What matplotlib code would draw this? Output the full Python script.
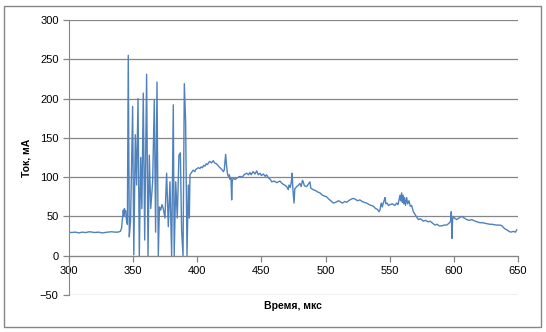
import matplotlib.pyplot as plt
from matplotlib.patches import Rectangle

# time, us
t = [300, 302, 305, 308, 310, 313, 316, 320, 323, 326, 330, 333, 336, 338, 340,
     341, 341.5, 342, 342.3, 342.8, 343.2, 343.6, 344.2, 344.8, 345.5,
     346.2, 347, 348, 349.6, 350.5, 351.7, 352.7, 353.8, 354.8, 355.9, 356.8, 357.9,
     359, 360.5, 361.6, 362.6, 363.7, 365.2, 366.5, 367.5, 368.6, 369.6, 370.5, 371.5,
     372.5, 373.5, 374.8, 376.1, 377.4, 378.7, 380, 381.3, 382, 383.2, 384.4, 385.7,
     386.8, 387.8, 388.9, 389.9, 390.9, 392, 393, 393.8, 394.3,
     395.5, 396.9, 398, 399, 400.8, 402, 403, 404, 405, 406, 407, 408, 409, 409.9,
     411, 412.5, 413.5, 415, 416, 417.7, 419, 420.3, 421, 422.1, 422.8, 423.5,
     424.2, 425, 425.5, 426.3, 426.8, 427.3, 428, 429.5, 431, 433.3, 435, 436.5,
     438.5, 440, 441, 442, 443.5, 445, 446.3, 447.5, 449, 450, 451.5, 453, 454,
     455.5, 457, 458, 460, 462, 464.5, 466, 468, 469.7, 470.9, 471.5, 472.5, 473.3,
     474, 474.5, 475.4, 476, 477.5, 479, 480, 481, 482, 482.6, 483.5, 485.2, 486.5,
     487.8, 488.5, 490.4, 492, 494, 495.6, 497.5, 499, 500.8, 502.5, 504, 506, 508,
     510, 511.2, 513, 515, 516.4, 518, 520, 521.6, 523, 525, 526.8, 528.5, 530, 532,
     534, 535.5, 537.2, 539, 540.5, 541.6, 542.4, 543, 543.5, 544.2, 545, 545.6,
     546.3, 547, 548, 549, 550.2, 552, 554, 555.4, 556.5, 558, 558.6, 559.3, 559.8,
     560.5, 561, 561.5, 562.3, 563.2, 564, 565, 566, 567.1, 568.4, 570, 572.3, 574,
     576.2, 578, 580, 581.4, 583, 585.3, 587, 588.5, 590.5, 592.5, 594.4, 596, 597.5,
     598, 598.5, 599, 599.5, 600.5, 602.2, 604, 606.1, 608, 610, 612, 614, 616.5,
     618.5, 620.4, 622.5, 625, 628.2, 630, 633, 636, 637.5, 638.6, 640, 641.3, 643,
     644.5, 646.4, 648, 649]

# current, mA
cur = [30, 29.5, 30, 29, 30, 29.5, 30.5, 29.5, 30, 29, 30, 30.5, 30, 30, 31,
       35, 45, 52, 58, 50, 60, 55, 57, 45, 40,
       255, 24, 45, 190, 1, 154, 90, 200, 0, 125, 60, 207,
       20, 231, 0, 128, 60, 94, 198, 30, 221, 0, 62, 58,
       65, 60, 48, 105, 37, 94, 0, 192, 0, 94, 48, 128,
       131, 31, 0, 219, 171, 0, 90, 48, 103,
       106, 109, 107, 110, 112, 111, 113, 112, 115, 114, 117, 116, 119, 120,
       118, 121, 118, 117, 115, 112, 110, 107, 109, 129, 115, 105,
       101, 103, 97, 99, 71, 95, 99, 97, 99, 101, 100, 103,
       105, 103, 106, 103, 107, 104, 108, 103, 105, 102, 104, 101, 103,
       99, 97, 94, 95, 93, 95, 92, 90, 88, 84, 90, 87, 94,
       105, 85, 67, 85, 88, 90, 92, 88, 96, 94, 89, 88, 91,
       94, 86, 84, 83, 81, 80, 77, 76, 75, 72, 70, 67, 68,
       70, 69, 67, 69, 68, 70, 72, 73, 72, 70, 71, 69, 68, 67,
       65, 64, 63, 60, 59, 56, 58, 64, 67, 62, 67, 70,
       74, 66, 67, 64, 65, 66, 64, 67, 65, 77, 70, 80, 68,
       77, 66, 74, 64, 74, 66, 70, 63, 64, 56, 52, 46, 47,
       44, 45, 43, 44, 42, 39, 40, 38, 38, 39, 39, 41, 44,
       56, 22, 45, 50, 48, 46, 48, 50, 48, 46, 45, 46, 44,
       43, 42, 42, 41, 40, 40, 39, 39, 38, 36, 34, 33, 31,
       30, 31, 30, 33]

fig = plt.figure(figsize=(5.46, 3.32), dpi=100)
ax = fig.add_axes([69/546, 1 - 295/332, 449/546, 275/332])

ax.plot(t, cur, color='#4F81BD', linewidth=1.0)

ax.set_xlim(300, 650)
ax.set_ylim(-50, 300)
ax.set_xticks(range(300, 651, 50))
ax.set_yticks(range(-50, 301, 50))
ax.yaxis.grid(True, color='#868686', linewidth=0.9)
ax.set_axisbelow(True)

for s in ('top', 'right'):
    ax.spines[s].set_visible(False)
ax.spines['bottom'].set_position(('data', 0))
ax.spines['bottom'].set_color('#868686')
ax.spines['left'].set_color('#868686')
ax.tick_params(axis='both', colors='#868686', labelcolor='black', labelsize=8, length=4, width=0.9)
for lbl in ax.get_xticklabels() + ax.get_yticklabels():
    lbl.set_family('Liberation Sans')

ax.set_ylabel('Ток, мА', fontsize=7.5, fontweight='bold', family='Liberation Sans', labelpad=6)
fig.text(293/546, 1 - 306/332, 'Время, мкс', fontsize=7.5, fontweight='bold',
         family='Liberation Sans', ha='center', va='center')

fig.patches.append(Rectangle((4/546, 1 - 327/332), 537/546, 321/332, transform=fig.transFigure,
                             fill=False, edgecolor='#868686', linewidth=1))

plt.savefig('out.png', dpi=100)
